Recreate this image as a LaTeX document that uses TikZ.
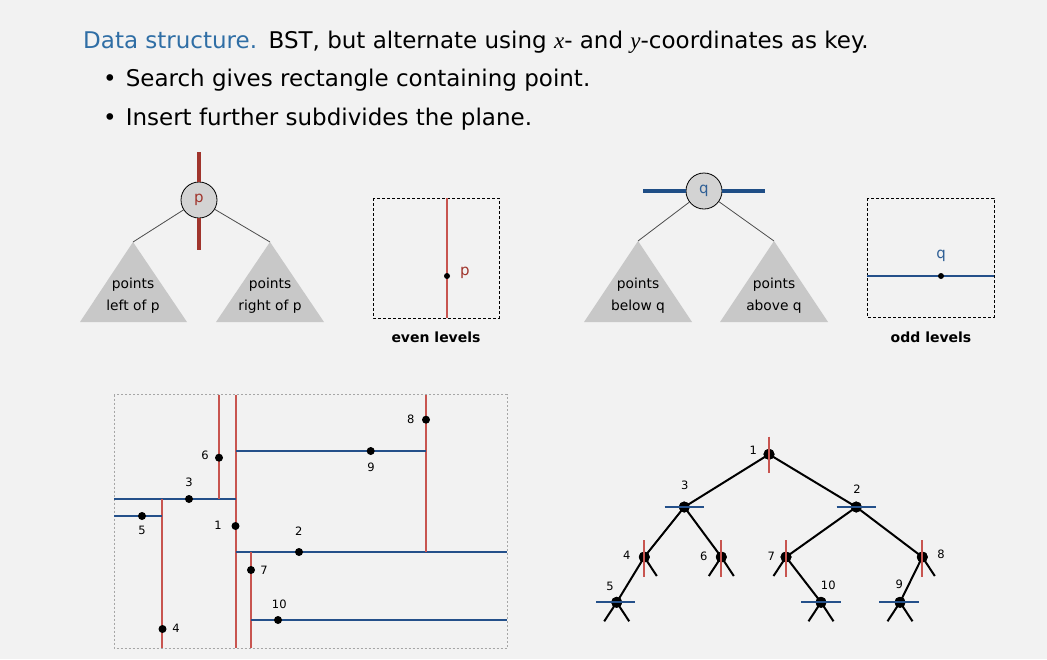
\documentclass[tikz,border=0pt]{standalone}
\usepackage{fontspec}
\setmainfont{DejaVu Sans}
\newfontfamily\seriffont{Liberation Serif}
\definecolor{bg}{HTML}{F2F2F2}
\definecolor{titleblue}{HTML}{2F6EA5}
\definecolor{dred}{HTML}{A0342C}
\definecolor{dblue}{HTML}{1F4E86}
\definecolor{qblue}{HTML}{2F5F95}
\definecolor{lred}{HTML}{C85550}
\definecolor{lblue}{HTML}{24508A}
\definecolor{trigray}{HTML}{C8C8C8}
\definecolor{circgray}{HTML}{D3D3D3}
\begin{document}
\begin{tikzpicture}[x=1pt,y=-1pt,
  bigtxt/.style={font=\fontsize{23}{28}\selectfont, anchor=base west, inner sep=0},
  tritxt/.style={font=\fontsize{13.8}{22}\selectfont, align=center, inner sep=0},
  captxt/.style={font=\fontsize{14}{16}\selectfont\bfseries, inner sep=0},
  keycirc/.style={draw=black, circle, fill=circgray, minimum size=36, inner sep=0, line width=0.8, font=\fontsize{15}{16}\selectfont},
  tri/.style={fill=trigray},
  thinedge/.style={draw=black!70, line width=0.8},
  dashbox/.style={draw=black, dash pattern=on 3pt off 2pt, line width=0.9},
  pdot/.style={circle, fill=black, inner sep=0, minimum size=8},
  tdot/.style={circle, fill=black, inner sep=0, minimum size=11},
  lbl/.style={font=\fontsize{11.5}{12}\selectfont, inner sep=0},
  rline/.style={draw=lred, line width=1.2},
  bline/.style={draw=lblue, line width=1.2},
  rmark/.style={draw=lred, line width=2},
  bmark/.style={draw=lblue, line width=2},
  tedge/.style={draw=black, line width=2}]
\fill[bg] (0,0) rectangle (1047,659);
\useasboundingbox (0,0) rectangle (1047,659);

% ---------- header text ----------
\node[bigtxt] (title) at (83,48) {\textcolor{titleblue}{Data structure.}\enspace BST, but alternate using {\seriffont\itshape x}- and {\seriffont\itshape y}-coordinates as key.};
\node[bigtxt] (b1) at (103,86) {•\hspace{9pt}Search gives rectangle containing point.};
\node[bigtxt] (b2) at (103,125) {•\hspace{9pt}Insert further subdivides the plane.};

% ---------- even level tree ----------
\node[keycirc] (p) at (199,200) {\textcolor{dred}{p}};
\draw[draw=dred, line width=3.5] (p.north) -- ++(0,-30);
\draw[draw=dred, line width=3.5] (p.south) -- ++(0,32);
\coordinate (pl) at (133,242);
\coordinate (pr) at (270,242);
\fill[tri] (pl) -- (80,322) -- (187,322) -- cycle;
\fill[tri] (pr) -- (216,322) -- (324,322) -- cycle;
\draw[thinedge] (p) -- (pl);
\draw[thinedge] (p) -- (pr);
\node[tritxt] (plt) at (133,296) {points\\left of p};
\node[tritxt] (prt) at (270,296) {points\\right of p};

% even levels box
\draw[dashbox] (373,198) rectangle (499,318);
\draw[rline] (447,198) -- (447,318);
\node[pdot, minimum size=6] (pp) at (447,276) {};
\node[font=\fontsize{15}{16}\selectfont, text=dred, inner sep=0] (pplbl) at (465,273) {p};
\node[captxt] (even) at (436,337) {even levels};

% ---------- odd level tree ----------
\node[keycirc] (q) at (704,191) {\textcolor{qblue}{q}};
\draw[draw=dblue, line width=3.5] (q.west) -- ++(-43,0);
\draw[draw=dblue, line width=3.5] (q.east) -- ++(43,0);
\coordinate (ql) at (638,241);
\coordinate (qr) at (774,241);
\fill[tri] (ql) -- (584,322) -- (692,322) -- cycle;
\fill[tri] (qr) -- (720,322) -- (828,322) -- cycle;
\draw[thinedge] (q) -- (ql);
\draw[thinedge] (q) -- (qr);
\node[tritxt] (qlt) at (638,296) {points\\below q};
\node[tritxt] (qrt) at (774,296) {points\\above q};

% odd levels box
\draw[dashbox] (867,198) rectangle (994,317);
\draw[bline] (867,276) -- (994,276);
\node[pdot, minimum size=6] (qq) at (941,276) {};
\node[font=\fontsize{15}{16}\selectfont, text=qblue, inner sep=0] (qqlbl) at (941,256) {q};
\node[captxt] (odd) at (931,337) {odd levels};

% ---------- kd partition of the plane ----------
\draw[draw=black!35, dash pattern=on 2pt off 2pt, line width=0.7] (114,394.5) rectangle (507,648);
% partition lines
\draw[rline] (236,394.5) -- (236,648);       % 1
\draw[bline] (236,552) -- (507,552);         % 2
\draw[bline] (114,499) -- (236,499);         % 3
\draw[rline] (162,499) -- (162,648);         % 4
\draw[bline] (114,516) -- (162,516);         % 5
\draw[rline] (219,394.5) -- (219,499);       % 6
\draw[rline] (251,552) -- (251,648);         % 7
\draw[rline] (426,394.5) -- (426,552);       % 8
\draw[bline] (236,451) -- (426,451);         % 9
\draw[bline] (251,620) -- (507,620);         % 10
% points
\node[pdot] (k1) at (235.5,526) {};
\node[pdot] (k2) at (299,552) {};
\node[pdot] (k3) at (189,499) {};
\node[pdot] (k4) at (162.5,629) {};
\node[pdot] (k5) at (142,516) {};
\node[pdot] (k6) at (219,457.7) {};
\node[pdot] (k7) at (251,570) {};
\node[pdot] (k8) at (426,419.7) {};
\node[pdot] (k9) at (370.7,451) {};
\node[pdot] (k10) at (278,620) {};
\node[lbl] (k1l) at (218,525) {1};
\node[lbl] (k2l) at (298.7,531.7) {2};
\node[lbl] (k3l) at (189,482) {3};
\node[lbl] (k4l) at (176,628) {4};
\node[lbl] (k5l) at (142,530) {5};
\node[lbl] (k6l) at (205,455) {6};
\node[lbl] (k7l) at (264,570) {7};
\node[lbl] (k8l) at (410.7,419) {8};
\node[lbl] (k9l) at (371,467) {9};
\node[lbl] (k10l) at (279.3,604) {10};

% ---------- kd tree ----------
\node[tdot] (t1) at (769,454.3) {};
\node[tdot] (t3) at (684.3,507) {};
\node[tdot] (t2) at (856.3,507) {};
\node[tdot] (t4) at (644.3,557) {};
\node[tdot] (t6) at (721.3,557) {};
\node[tdot] (t7) at (786,557) {};
\node[tdot] (t8) at (922.3,557) {};
\node[tdot] (t5) at (616.7,602.3) {};
\node[tdot] (t10) at (821,602.3) {};
\node[tdot] (t9) at (900,602.3) {};
\draw[tedge] (t1.center) -- (t3.center);
\draw[tedge] (t1.center) -- (t2.center);
\draw[tedge] (t3.center) -- (t4.center);
\draw[tedge] (t3.center) -- (t6.center);
\draw[tedge] (t2.center) -- (t7.center);
\draw[tedge] (t2.center) -- (t8.center);
\draw[tedge] (t4.center) -- (t5.center);
\draw[tedge] (t7.center) -- (t10.center);
\draw[tedge] (t8.center) -- (t9.center);
% null links
\draw[tedge] (t4.center) -- ++(12.5,19);
\draw[tedge] (t6.center) -- ++(-12.5,19);
\draw[tedge] (t6.center) -- ++(12.5,19);
\draw[tedge] (t7.center) -- ++(-12.5,19);
\draw[tedge] (t8.center) -- ++(12.5,19);
\draw[tedge] (t5.center) -- ++(-12.5,19);
\draw[tedge] (t5.center) -- ++(12.5,19);
\draw[tedge] (t10.center) -- ++(-12.5,19);
\draw[tedge] (t10.center) -- ++(12.5,19);
\draw[tedge] (t9.center) -- ++(-12.5,19);
\draw[tedge] (t9.center) -- ++(12.5,19);
% redraw dots on top of edges
\foreach \n in {t1,t2,t3,t4,t5,t6,t7,t8,t9,t10} {\fill[black] (\n) circle (5.5);}
% split marks
\draw[rmark] (t1.center) ++(0,-17.6) -- ++(0,36.6);
\draw[rmark] (t4.center) ++(0,-17) -- ++(0,36.6);
\draw[rmark] (t6.center) ++(0,-17) -- ++(0,36.6);
\draw[rmark] (t7.center) ++(0,-17) -- ++(0,36.6);
\draw[rmark] (t8.center) ++(0,-17) -- ++(0,36.6);
\draw[bmark] (t3.center) ++(-19.6,0) -- ++(39.3,0);
\draw[bmark] (t2.center) ++(-19.6,0) -- ++(39.3,0);
\draw[bmark] (t5.center) ++(-20.6,0) -- ++(39.3,0);
\draw[bmark] (t10.center) ++(-19.6,0) -- ++(39.3,0);
\draw[bmark] (t9.center) ++(-20.6,0) -- ++(39.3,0);
% labels
\node[lbl] (t1l) at (753.3,450.7) {1};
\node[lbl] (t3l) at (684.7,485) {3};
\node[lbl] (t2l) at (857,489) {2};
\node[lbl] (t4l) at (626.7,555.7) {4};
\node[lbl] (t6l) at (703.7,556) {6};
\node[lbl] (t7l) at (771.3,556) {7};
\node[lbl] (t8l) at (941,554) {8};
\node[lbl] (t5l) at (610,586) {5};
\node[lbl] (t10l) at (828.3,585.7) {10};
\node[lbl] (t9l) at (899.3,584) {9};
\end{tikzpicture}
\end{document}
